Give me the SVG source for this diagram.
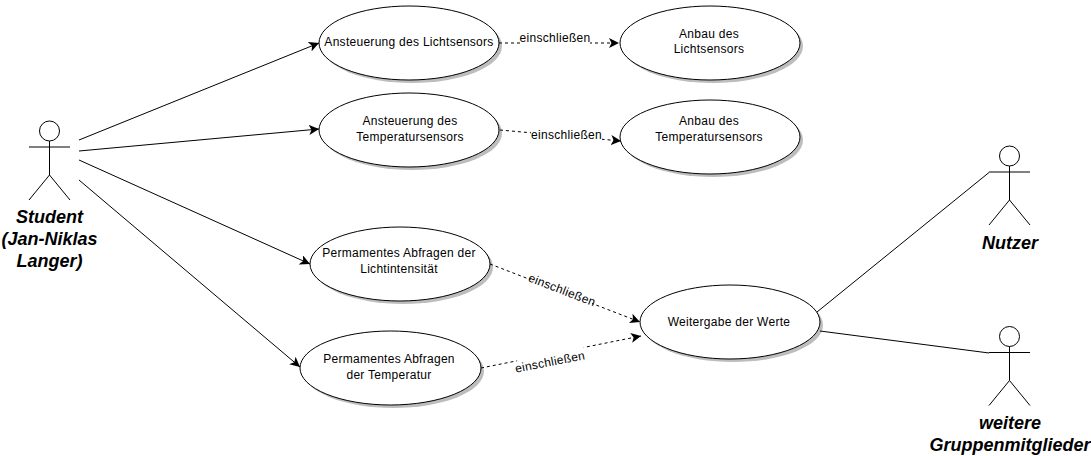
<svg xmlns="http://www.w3.org/2000/svg" width="1091" height="456" viewBox="0 0 1091 456">
<style>
text{font-family:"Liberation Sans",Arial,sans-serif;fill:#000}
.t{font-size:12px;text-anchor:middle;letter-spacing:.28px}
.l{font-size:12px;text-anchor:middle;letter-spacing:.3px}
.a{font-size:18px;font-weight:bold;font-style:italic;text-anchor:middle}
.s{fill:#bdbdbd}
.e{fill:#fff;stroke:#000;stroke-width:1}
.f{fill:#fff;stroke:#000;stroke-width:1}
.c{fill:none;stroke:#000;stroke-width:1}
.d{fill:none;stroke:#000;stroke-width:1;stroke-dasharray:3 3}
</style>
<defs>
<marker id="arrow" markerUnits="userSpaceOnUse" markerWidth="12" markerHeight="10" refX="10" refY="5" orient="auto"><path d="M0 0L10 5L0 10L2.500 5Z" fill="#000"/></marker>
<g id="fig"><circle class="f" cx="0" cy="0" r="10"/><path class="c" d="M0 10V44M-20.500 16H20.500M0 44L-20.500 69M0 44L20.500 69"/></g>
</defs>
<rect width="1091" height="456" fill="#fff"/>
<g id="student"><use href="#fig" x="49.500" y="131"/><text class="a" x="49.500" y="223">Student</text><text class="a" x="49.500" y="245">(Jan-Niklas</text><text class="a" x="49.500" y="267">Langer)</text></g>
<g id="nutzer"><use href="#fig" x="1009.500" y="156"/><text class="a" x="1010" y="249">Nutzer</text></g>
<g id="gruppe"><use href="#fig" x="1009.500" y="336.500"/><text class="a" x="1010" y="429">weitere</text><text class="a" x="1010" y="451">Gruppenmitglieder</text></g>
<g id="u1"><ellipse class="s" cx="412" cy="46" rx="90" ry="37"/><ellipse class="e" cx="409" cy="43" rx="90" ry="37"/><text class="t" x="409" y="46">Ansteuerung des Lichtsensors</text></g>
<g id="u2"><ellipse class="s" cx="412" cy="133" rx="90" ry="37"/><ellipse class="e" cx="409" cy="130" rx="90" ry="37"/><text class="t" x="410" y="125">Ansteuerung des</text><text class="t" x="410" y="141">Temperatursensors</text></g>
<g id="u3"><ellipse class="s" cx="713" cy="46" rx="90" ry="37"/><ellipse class="e" cx="710" cy="43" rx="90" ry="37"/><text class="t" x="709" y="38">Anbau des</text><text class="t" x="709" y="53">Lichtsensors</text></g>
<g id="u4"><ellipse class="s" cx="713" cy="140" rx="90" ry="37"/><ellipse class="e" cx="710" cy="137" rx="90" ry="37"/><text class="t" x="709" y="125">Anbau des</text><text class="t" x="709" y="141">Temperatursensors</text></g>
<g id="u5"><ellipse class="s" cx="403" cy="267" rx="90" ry="37"/><ellipse class="e" cx="400" cy="264" rx="90" ry="37"/><text class="t" x="399" y="257">Permamentes Abfragen der</text><text class="t" x="399" y="273">Lichtintensität</text></g>
<g id="u6"><ellipse class="s" cx="393.500" cy="371" rx="90.500" ry="37"/><ellipse class="e" cx="390.500" cy="368" rx="90.500" ry="37"/><text class="t" x="389" y="363">Permamentes Abfragen</text><text class="t" x="389" y="379">der Temperatur</text></g>
<g id="u7"><ellipse class="s" cx="733" cy="325" rx="90" ry="37"/><ellipse class="e" cx="730" cy="322" rx="90" ry="37"/><text class="t" x="729" y="326">Weitergabe der Werte</text></g>
<g id="connectors">
<path class="c" marker-end="url(#arrow)" d="M79 140L319 43"/>
<path class="c" marker-end="url(#arrow)" d="M79 151L319 129"/>
<path class="c" marker-end="url(#arrow)" d="M79 160L310 264"/>
<path class="c" marker-end="url(#arrow)" d="M79 180L300 367"/>
<path class="d" marker-end="url(#arrow)" d="M499 43L619 43"/>
<path class="d" marker-end="url(#arrow)" d="M500 130L621 141"/>
<path class="d" marker-end="url(#arrow)" d="M490 264L640 322"/>
<path class="d" marker-end="url(#arrow)" d="M481 368L641 336"/>
<path class="c" d="M817 312L989 172.500"/>
<path class="c" d="M820 331L989 353"/>
<rect x="520" y="30" width="70" height="16" fill="#fff"/>
<rect x="531" y="127" width="71" height="16" fill="#fff"/>
<rect x="530" y="272" width="66" height="30" fill="#fff" transform="rotate(21 563 287)"/>
<rect x="516" y="343" width="68" height="18" fill="#fff" transform="rotate(-11 550 352)"/>
<text class="l" x="555" y="42">einschließen</text>
<text class="l" x="566.500" y="139">einschließen</text>
<text class="l" x="562" y="294" transform="rotate(21 562 290)">einschließen</text>
<text class="l" x="550" y="366" transform="rotate(-11 550 362)">einschließen</text>
</g>
</svg>
